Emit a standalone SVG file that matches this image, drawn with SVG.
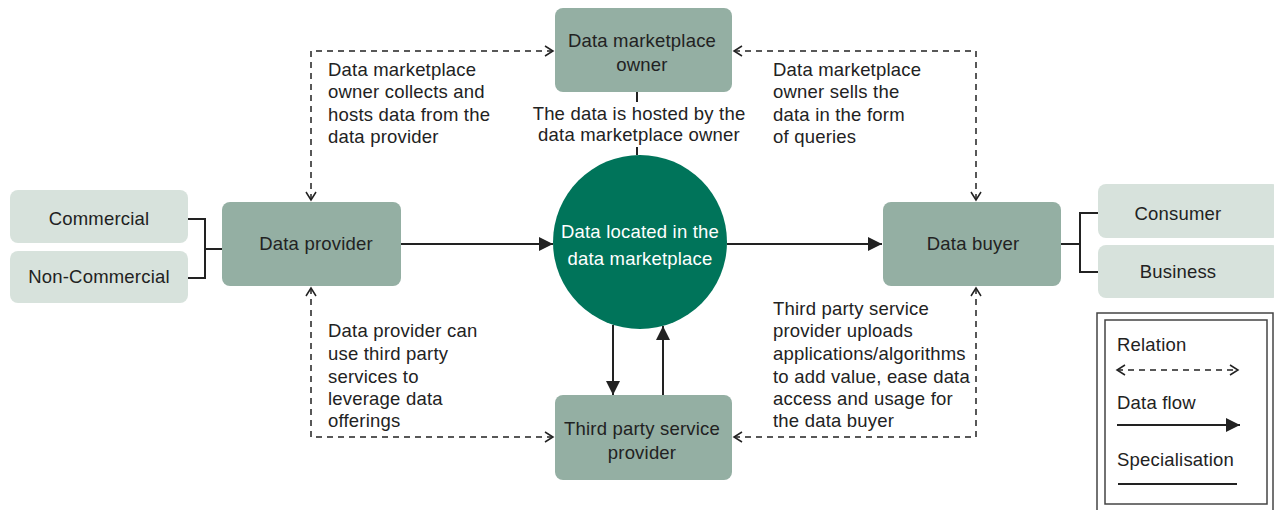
<svg xmlns="http://www.w3.org/2000/svg" width="1274" height="510" viewBox="0 0 1274 510">
<style>
.node{fill:#94AFA3}
.light{fill:#D7E2DC}
.t{font-family:"Liberation Sans",Arial,sans-serif;font-size:18.5px;letter-spacing:0.2px;fill:#222}
.c{text-anchor:middle}
.w{fill:#fff}
.rel{fill:none;stroke:#222;stroke-width:1.5;stroke-dasharray:6 5;marker-start:url(#open);marker-end:url(#open)}
.flow{fill:none;stroke:#222;stroke-width:2;marker-end:url(#solid)}
.spec{fill:none;stroke:#222;stroke-width:2}
</style>
<defs>
<marker id="open" markerUnits="userSpaceOnUse" markerWidth="12" markerHeight="12" refX="8" refY="5" orient="auto-start-reverse" viewBox="-1 -1 11 12">
<path d="M0,0 L8,5 L0,10" fill="none" stroke="#222" stroke-width="1.5"/>
</marker>
<marker id="solid" markerUnits="userSpaceOnUse" markerWidth="15" markerHeight="14" refX="14" refY="7" orient="auto" viewBox="0 0 15 14">
<path d="M0,0 L14,7 L0,14 z" fill="#222"/>
</marker>
</defs>
<rect width="1274" height="510" fill="#fff"/>

<g id="connectors">
<path class="rel" d="M311,200 V51 H553"/>
<path class="rel" d="M734,51 H976 V200"/>
<path class="rel" d="M311,288 V437 H553"/>
<path class="rel" d="M734,437 H976 V288"/>
<path class="flow" d="M401,244 H553"/>
<path class="flow" d="M727,244 H882"/>
<path class="flow" d="M613,325 V395"/>
<path class="flow" d="M663,395 V326"/>
<path class="spec" d="M188,219 H205 V278 H188 M205,249 H222"/>
<path class="spec" d="M1061,244 H1080 M1098,213 H1080 V272 H1098"/>
<path class="spec" d="M637,92 V102 M637,147 V155"/>
</g>

<g id="commercial">
<rect class="light" x="10" y="190" width="178" height="53" rx="8"/>
<text class="t c" x="99" y="225">Commercial</text>
</g>
<g id="non-commercial">
<rect class="light" x="10" y="251" width="178" height="52" rx="8"/>
<text class="t c" x="99" y="283">Non-Commercial</text>
</g>
<g id="data-provider">
<rect class="node" x="222" y="202" width="179" height="84" rx="8"/>
<text class="t c" x="316" y="250">Data provider</text>
</g>
<g id="owner">
<rect class="node" x="555" y="8" width="177" height="84" rx="8"/>
<text class="t c" x="642" y="47">Data marketplace</text>
<text class="t c" x="642" y="71">owner</text>
</g>
<g id="market">
<circle cx="640" cy="242" r="87" fill="#00745A"/>
<text class="t c w" x="640" y="238">Data located in the</text>
<text class="t c w" x="640" y="265">data marketplace</text>
</g>
<g id="third-party">
<rect class="node" x="555" y="395" width="177" height="85" rx="8"/>
<text class="t c" x="642" y="435">Third party service</text>
<text class="t c" x="642" y="459">provider</text>
</g>
<g id="data-buyer">
<rect class="node" x="883" y="202" width="178" height="84" rx="8"/>
<text class="t c" x="973" y="250">Data buyer</text>
</g>
<g id="consumer">
<rect class="light" x="1098" y="184" width="182" height="54" rx="8"/>
<text class="t c" x="1178" y="220">Consumer</text>
</g>
<g id="business">
<rect class="light" x="1098" y="245" width="182" height="53" rx="8"/>
<text class="t c" x="1178" y="278">Business</text>
</g>

<g id="labels">
<text class="t" x="328" y="76">Data marketplace</text>
<text class="t" x="328" y="98">owner collects and</text>
<text class="t" x="328" y="121">hosts data from the</text>
<text class="t" x="328" y="143">data provider</text>
<text class="t" x="773" y="76">Data marketplace</text>
<text class="t" x="773" y="98">owner sells the</text>
<text class="t" x="773" y="121">data in the form</text>
<text class="t" x="773" y="143">of queries</text>
<text class="t c" x="639" y="120">The data is hosted by the</text>
<text class="t c" x="639" y="141">data marketplace owner</text>
<text class="t" x="328" y="337">Data provider can</text>
<text class="t" x="328" y="360">use third party</text>
<text class="t" x="328" y="383">services to</text>
<text class="t" x="328" y="405">leverage data</text>
<text class="t" x="328" y="427">offerings</text>
<text class="t" x="773" y="315">Third party service</text>
<text class="t" x="773" y="337">provider uploads</text>
<text class="t" x="773" y="360">applications/algorithms</text>
<text class="t" x="773" y="383">to add value, ease data</text>
<text class="t" x="773" y="405">access and usage for</text>
<text class="t" x="773" y="427">the data buyer</text>
</g>

<g id="legend">
<rect x="1097" y="313" width="176" height="210" fill="none" stroke="#444" stroke-width="1.5"/>
<rect x="1105" y="320" width="162" height="184" fill="none" stroke="#444" stroke-width="1.5"/>
<text class="t" x="1117" y="351">Relation</text>
<path class="rel" d="M1117,370 H1238"/>
<text class="t" x="1117" y="409">Data flow</text>
<path class="flow" d="M1117,425 H1240"/>
<text class="t" x="1117" y="466">Specialisation</text>
<path class="spec" d="M1118,484 H1237" stroke-width="1.5"/>
</g>
</svg>
